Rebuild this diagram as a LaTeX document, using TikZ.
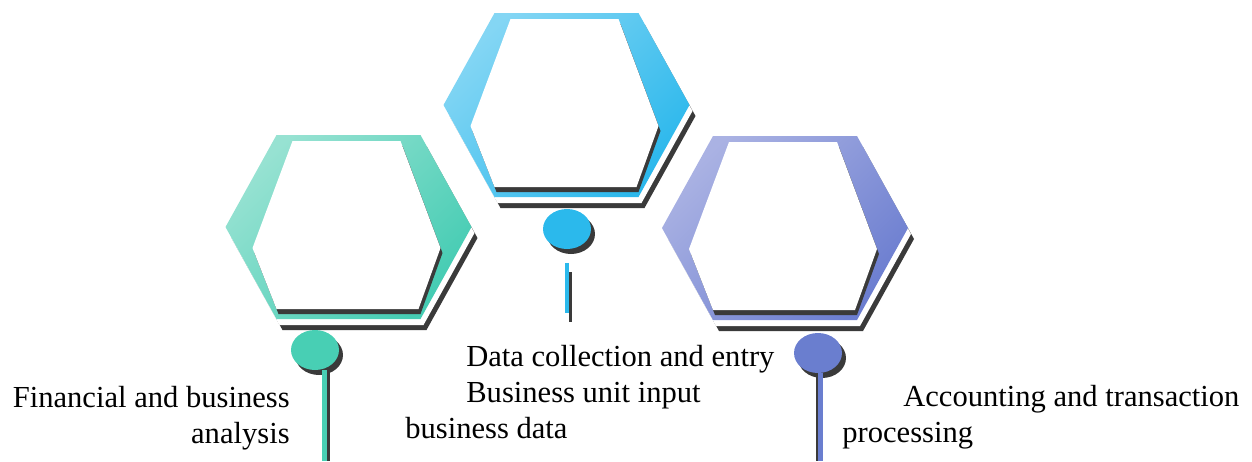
\documentclass[tikz,border=0pt]{standalone}
\usepackage{fontspec}
\setmainfont{Liberation Serif}
\usetikzlibrary{positioning,shapes.geometric,shadows}
\definecolor{glight}{HTML}{97E2D2}
\definecolor{gdark}{HTML}{45CCB3}
\definecolor{cgreen}{HTML}{48CFB4}
\definecolor{blight}{HTML}{84D6F4}
\definecolor{bdark}{HTML}{2CB8EC}
\definecolor{cblue}{HTML}{2BB9EC}
\definecolor{plight}{HTML}{AAB2E3}
\definecolor{pdark}{HTML}{6C7ED0}
\definecolor{cpurple}{HTML}{6A7ECF}
\definecolor{cshadow}{HTML}{3A3A3A}
\tikzset{
  dot/.style={ellipse,minimum width=0.96cm,minimum height=0.8cm,inner sep=0pt,
    draw=none,general shadow={fill=cshadow,shadow xshift=0.08cm,shadow yshift=-0.1cm}},
  stem/.style={line width=0.1cm},
  stemshadow/.style={line width=0.08cm,draw=cshadow},
  txt/.style={font=\fontsize{17.4}{20.4}\selectfont,inner sep=0pt}
}
% hexagon outlines, relative to the centre of a cell
\newcommand{\hexouter}{(-72,-92) -- (72,-92) -- (123,0) -- (72,92) -- (-72,92) -- (-123,0) -- cycle}
\newcommand{\hexinner}{(-56,-86) -- (52,-86) -- (92,21) -- (70,82) -- (-72,82) -- (-96,21) -- cycle}
\newcommand{\hexcell}[3]{% #1 centre, #2 light colour, #3 dark colour
  \begin{scope}[shift={#1}]
    \fill[cshadow,shift={(6,11)}] \hexouter;
    \fill[white,shift={(3,6)}] \hexouter;
    \shade[top color=#2,bottom color=#3,shading angle=45] \hexouter;
    \fill[cshadow,shift={(2,5)}] \hexinner;
    \fill[white] \hexinner;
  \end{scope}}

\begin{document}
\begin{tikzpicture}[x=0.02cm,y=-0.02cm]
  \useasboundingbox (0,0) rectangle (1252,461);
  \hexcell{(348.5,227)}{glight}{gdark}
  \hexcell{(785,228)}{plight}{pdark}
  \hexcell{(566.5,105)}{blight}{bdark}

  \node[dot,fill=cgreen] (gdot) at (315,350) {};
  \node[dot,fill=cblue] (bdot) at (567,229) {};
  \node[dot,fill=cpurple] (pdot) at (818,353) {};

  % stems
  \coordinate (gend) at (324.5,461);
  \coordinate (gshd) at (327.5,461);
  \draw[stemshadow] (gdot.south -| gshd) -- (gshd);
  \draw[stem,cgreen] (gdot.south -| gend) -- (gend);
  \coordinate (btop) at (567,263);
  \coordinate (bbot) at (567,313);
  \coordinate (bstop) at (570.5,272);
  \coordinate (bsbot) at (570.5,322);
  \draw[stemshadow,line width=0.06cm] (bstop) -- (bsbot);
  \draw[cblue,line width=0.08cm] (btop) -- (bbot);
  \coordinate (pend) at (820.5,461);
  \coordinate (pshd) at (817.5,461);
  \draw[stemshadow] (pdot.south -| pshd) -- (pshd);
  \draw[stem,cpurple] (pdot.south -| pend) -- (pend);

  \node[txt,anchor=base east,align=right] (tfin) at (290,443) {Financial and business\\analysis};
  \node[txt,anchor=base west,align=left] (tdata) at (405,438)
    {\hspace*{1.22cm}Data collection and entry\\\hspace*{1.22cm}Business unit input\\business data};
  \node[txt,anchor=base west,align=left] (tacc) at (842,442)
    {\hspace*{1.22cm}Accounting and transaction\\processing};
\end{tikzpicture}
\end{document}
